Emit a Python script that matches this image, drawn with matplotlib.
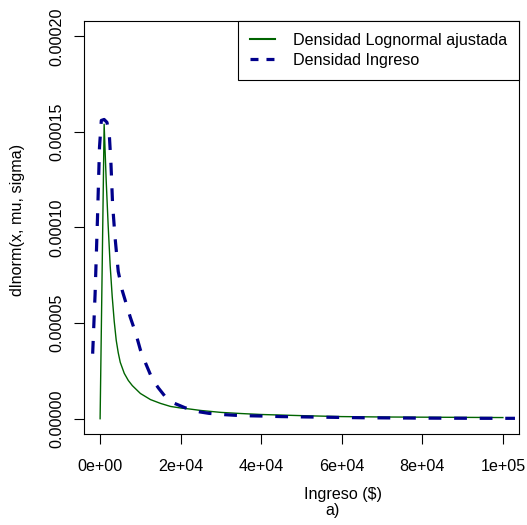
import matplotlib
matplotlib.use("Agg")
import matplotlib.pyplot as plt
from matplotlib.lines import Line2D

plt.rcParams["font.family"] = ["Liberation Sans", "DejaVu Sans"]
plt.rcParams["font.size"] = 11.6

# ── Data ──────────────────────────────────────────────────────────────────────
# fitted lognormal density (green)
lognormal_x = [0, 1000, 1500, 2000, 2500, 3000, 3500, 4000, 4500, 5000, 6000,
               7000, 8000, 10000, 12500, 15000, 17500, 20000, 22500, 25000,
               27500, 30000, 35000, 40000, 50000, 60000, 70000, 80000, 90000,
               100000]
lognormal_y = [0.0, 1.54e-4, 1.25e-4, 1.01e-4, 8.0e-5, 6.4e-5, 5.1e-5, 4.1e-5,
               3.45e-5, 2.95e-5, 2.37e-5, 2.0e-5, 1.73e-5, 1.32e-5, 1.0e-5,
               8.0e-6, 6.4e-6, 5.6e-6, 5.0e-6, 4.3e-6, 3.8e-6, 3.3e-6, 2.7e-6,
               2.2e-6, 1.6e-6, 1.1e-6, 0.9e-6, 0.8e-6, 0.7e-6, 0.6e-6]

# empirical income density (dashed blue)
ingreso_x = [-1850, -1250, -650, -150, 300, 1000, 1700, 2300, 2700, 3100, 3700,
             4500, 5500, 6500, 7500, 8800, 10000, 11300, 13000, 14500, 16000,
             18500, 21000, 24000, 27000, 31000, 35000, 40000, 45000, 55000,
             65000, 80000, 95000, 103000]
ingreso_y = [3.4e-5, 6.5e-5, 1.05e-4, 1.42e-4, 1.56e-4, 1.565e-4, 1.55e-4,
             1.48e-4, 1.33e-4, 1.12e-4, 9.5e-5, 7.7e-5, 6.7e-5, 6.0e-5, 5.3e-5,
             4.5e-5, 3.6e-5, 2.9e-5, 2.05e-5, 1.6e-5, 1.2e-5, 8.0e-6, 5.8e-6,
             3.8e-6, 2.8e-6, 2.1e-6, 1.6e-6, 1.4e-6, 1.1e-6, 0.8e-6, 0.5e-6,
             0.3e-6, 0.2e-6, 0.2e-6]

x_ticks = [0, 20000, 40000, 60000, 80000, 100000]
x_tick_labels = ["0e+00", "2e+04", "4e+04", "6e+04", "8e+04", "1e+05"]
y_ticks = [0.0, 0.00005, 0.00010, 0.00015, 0.00020]
y_tick_labels = ["0.00000", "0.00005", "0.00010", "0.00015", "0.00020"]

legend_labels = ["Densidad Lognormal ajustada", "Densidad Ingreso"]

# ── Figure ────────────────────────────────────────────────────────────────────
W, H = 527, 525
fig = plt.figure(figsize=(W / 100, H / 100), dpi=100)
ax = fig.add_axes([84 / W, (H - 434) / H, (519 - 84) / W, (434 - 21) / H])

ax.plot(lognormal_x, lognormal_y, color="#006400", linewidth=1.0)
ax.plot(ingreso_x, ingreso_y, color="#00008B", linewidth=2.3,
        linestyle=(0, (4, 4)))

ax.set_xlim(-4000, 104000)
ax.set_ylim(-0.000008, 0.000208)

ax.set_xticks(x_ticks)
ax.set_xticklabels(x_tick_labels)
ax.set_yticks(y_ticks)
ax.set_yticklabels(y_tick_labels, rotation=90, va="center")
ax.tick_params(direction="out", length=7.2, width=0.8, color="black",
               labelsize=11.6)
ax.tick_params(axis="x", pad=11)
ax.tick_params(axis="y", pad=7)
for sp in ax.spines.values():
    sp.set_linewidth(0.8)
    sp.set_color("black")

handles = [
    Line2D([], [], color="#006400", linewidth=1.5),
    Line2D([], [], color="#00008B", linewidth=2.3, linestyle=(0, (2.5, 2.5))),
]
leg = ax.legend(handles, legend_labels, loc="upper right", borderaxespad=0,
                fancybox=False, frameon=True, framealpha=1, edgecolor="black",
                handlelength=1.55, handletextpad=1.1, borderpad=0.75,
                labelspacing=0.3, fontsize=11.6)
leg.get_frame().set_linewidth(0.8)

fig.text(18 / W, 1 - 220 / H, "dlnorm(x, mu, sigma)", rotation=90,
         ha="center", va="center", fontsize=11.6)
fig.text(343 / W, 1 - 495 / H, "Ingreso ($)", ha="center", va="center",
         fontsize=11.6)
fig.text(333 / W, 1 - 511 / H, "a)", ha="center", va="center", fontsize=11.6)

fig.savefig("out.png", dpi=100)
